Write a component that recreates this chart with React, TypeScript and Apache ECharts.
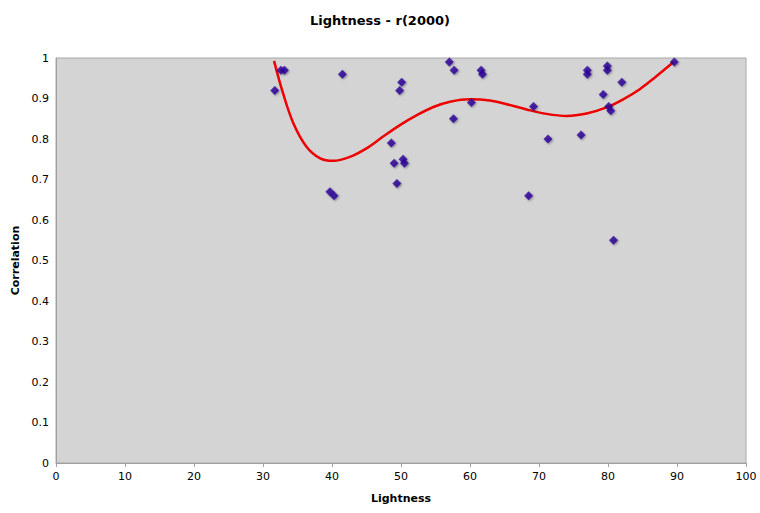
import React, { useEffect, useRef } from "react";
import * as echarts from "echarts";

// Measured points: lightness value and its correlation
const lightness = [
  31.7, 32.6, 33.1, 41.5, 39.7, 40.3, 48.6, 49.0, 49.4, 49.8, 50.1, 50.3, 50.5,
  57.0, 57.7, 57.6, 60.2, 61.6, 61.8, 68.5, 69.2, 71.3, 76.1, 77.0, 77.0, 79.3,
  79.9, 79.9, 80.1, 80.4, 80.8, 82.0, 89.6,
];
const correlation = [
  0.92, 0.97, 0.97, 0.96, 0.67, 0.66, 0.79, 0.74, 0.69, 0.92, 0.94, 0.75, 0.74,
  0.99, 0.97, 0.85, 0.89, 0.97, 0.96, 0.66, 0.88, 0.8, 0.81, 0.97, 0.96, 0.91,
  0.98, 0.97, 0.88, 0.87, 0.55, 0.94, 0.99,
];

// Polynomial trend line, sampled along its course
const trendX = [
  31.6, 32.9, 34.4, 36.3, 38.3, 40.2, 42.6, 45.0, 47.4, 49.9, 52.3, 54.7, 57.1,
  60.0, 62.9, 65.3, 68.2, 71.1, 74.0, 76.9, 79.8, 82.2, 84.6, 86.8, 89.5,
];
const trendY = [
  0.993, 0.913, 0.839, 0.781, 0.752, 0.746, 0.756, 0.777, 0.806, 0.835, 0.859,
  0.879, 0.892, 0.898, 0.895, 0.886, 0.873, 0.862, 0.857, 0.863, 0.878, 0.898,
  0.923, 0.952, 0.99,
];

const xTicks = { min: 0, max: 100, interval: 10 };
const yTicks = { min: 0, max: 1, interval: 0.1 };

export default function App() {
  const ref = useRef<HTMLDivElement>(null);

  useEffect(() => {
    if (!ref.current) return;
    const chart = echarts.init(ref.current, undefined, { renderer: "svg" });
    const font = "DejaVu Sans";
    chart.setOption({
      animation: false,
      backgroundColor: "#ffffff",
      title: {
        text: "Lightness - r(2000)",
        left: "center",
        top: 9,
        textStyle: { fontFamily: font, fontSize: 13, fontWeight: "bold", color: "#000" },
      },
      grid: {
        left: 56,
        right: 14,
        top: 58,
        bottom: 50,
        show: true,
        backgroundColor: "#d4d4d4",
        borderColor: "#a8a8a8",
        borderWidth: 1,
      },
      xAxis: {
        type: "value",
        ...xTicks,
        name: "Lightness",
        nameLocation: "middle",
        nameGap: 30,
        nameTextStyle: { fontFamily: font, fontSize: 11, fontWeight: "bold", color: "#000" },
        axisLine: { show: true, lineStyle: { color: "#a0a0a0" } },
        axisTick: { show: true, length: 4, lineStyle: { color: "#a0a0a0" } },
        axisLabel: { fontFamily: font, fontSize: 11, color: "#000", margin: 8 },
        splitLine: { show: false },
      },
      yAxis: {
        type: "value",
        ...yTicks,
        name: "Correlation",
        nameLocation: "middle",
        nameGap: 34,
        nameTextStyle: { fontFamily: font, fontSize: 11, fontWeight: "bold", color: "#000" },
        axisLine: { show: true, lineStyle: { color: "#a0a0a0" } },
        axisTick: { show: false },
        axisLabel: { fontFamily: font, fontSize: 11, color: "#000", margin: 7 },
        splitLine: { show: false },
      },
      series: [
        {
          type: "line",
          data: trendX.map((x, i) => [x, trendY[i]]),
          smooth: 0.35,
          symbol: "none",
          lineStyle: { color: "#ee0000", width: 2.5 },
          z: 2,
        },
        {
          type: "scatter",
          data: lightness.map((x, i) => [x, correlation[i]]),
          symbol: "diamond",
          symbolSize: 9,
          itemStyle: {
            color: "#2a0099",
            shadowColor: "rgba(0,0,0,0.45)",
            shadowBlur: 2,
            shadowOffsetX: 1,
            shadowOffsetY: 1,
          },
          z: 3,
        },
      ],
    });
    return () => chart.dispose();
  }, []);

  return <div ref={ref} style={{ width: 760, height: 513, position: "absolute", left: 0, top: 0 }} />;
}
